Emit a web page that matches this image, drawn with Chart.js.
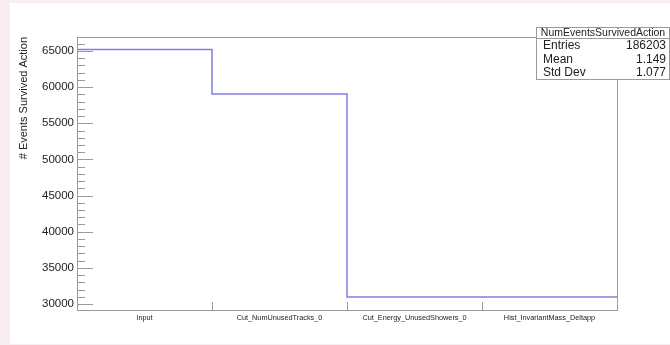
<!DOCTYPE html>
<html>
<head>
<meta charset="utf-8">
<script src="https://cdn.jsdelivr.net/npm/chart.js@4.4.1/dist/chart.umd.min.js"></script>
<style>
  html, body { margin: 0; padding: 0; background: #f8eef2; width: 670px; height: 345px; overflow: hidden; }
  #panel { position: absolute; left: 10px; top: 3px; width: 660px; height: 341px; background: #fff; }
  canvas { display: block; }
</style>
</head>
<body>
<div id="panel"><canvas id="hist" width="660" height="341"></canvas></div>
<script>
// bins of the cut-flow histogram (bin centres at 0,1,2,3)
const categories = ['Input', 'Cut_NumUnusedTracks_0', 'Cut_Energy_UnusedShowers_0', 'Hist_InvariantMass_Deltapp'];
const survived = [65200, 59040, 30980, 30980];
const yRange = [29170, 66940];
const yMajorTicks = [30000, 35000, 40000, 45000, 50000, 55000, 60000, 65000];
const yMinorStep = 1000;
const statsTitle = 'NumEventsSurvivedAction';
const statsLabels = ['Entries', 'Mean', 'Std Dev'];
const statsValues = ['186203', '1.149', '1.077'];

const FONT = "'Liberation Sans', Arial, sans-serif";
const AXIS_GREY = '#9a9a9a';

// histogram outline: one point on each left bin edge plus the last right edge
const outline = survived.map((v, i) => ({ x: i - 0.5, y: v }));
outline.push({ x: survived.length - 0.5, y: survived[survived.length - 1] });

// every 1000 inside the range gets a tick, the majors get a label
const yTicks = [];
for (let v = Math.ceil(yRange[0] / yMinorStep) * yMinorStep; v <= yRange[1]; v += yMinorStep) {
  yTicks.push(v);
}

const rootFrame = {
  id: 'rootFrame',
  beforeDatasetsDraw(chart) {
    const { ctx, chartArea: a, scales } = chart;
    const y = scales.y;
    const x = scales.x;
    ctx.save();
    ctx.strokeStyle = AXIS_GREY;
    ctx.lineWidth = 1;
    y.ticks.forEach((t) => {
      const py = Math.round(y.getPixelForValue(t.value)) + 0.5;
      const len = yMajorTicks.includes(t.value) ? 16 : 8;
      ctx.beginPath();
      ctx.moveTo(a.left, py);
      ctx.lineTo(a.left + len, py);
      ctx.stroke();
    });
    for (let i = 1; i < categories.length; i++) {
      const px = Math.round(x.getPixelForValue(i - 0.5)) + 0.5;
      ctx.beginPath();
      ctx.moveTo(px, a.bottom);
      ctx.lineTo(px, a.bottom - 8);
      ctx.stroke();
    }
    ctx.restore();
  },
  afterDatasetsDraw(chart) {
    const { ctx, chartArea: a } = chart;
    ctx.save();
    ctx.strokeStyle = AXIS_GREY;
    ctx.lineWidth = 1;
    ctx.strokeRect(Math.round(a.left) + 0.5, Math.round(a.top) + 0.5,
      Math.round(a.right - a.left), Math.round(a.bottom - a.top));
    ctx.restore();
  },
  afterDraw(chart) {
    // stats box in the top right corner
    const { ctx } = chart;
    const bx = 526.5, by = 24.5, bw = 133, bh = 52;
    ctx.save();
    ctx.fillStyle = '#fff';
    ctx.fillRect(bx, by, bw, bh);
    ctx.strokeStyle = AXIS_GREY;
    ctx.lineWidth = 1;
    ctx.strokeRect(bx, by, bw, bh);
    ctx.beginPath();
    ctx.moveTo(bx, by + 11);
    ctx.lineTo(bx + bw, by + 11);
    ctx.stroke();
    ctx.fillStyle = '#222';
    ctx.textBaseline = 'middle';
    ctx.font = '10.5px ' + FONT;
    ctx.textAlign = 'center';
    ctx.fillText(statsTitle, bx + bw / 2, by + 5.5);
    ctx.font = '12px ' + FONT;
    statsLabels.forEach((lbl, i) => {
      const ty = by + 18.5 + i * 13.5;
      ctx.textAlign = 'left';
      ctx.fillText(lbl, bx + 6.5, ty);
      ctx.textAlign = 'right';
      ctx.fillText(statsValues[i], bx + bw - 3.5, ty);
    });
    ctx.restore();
  }
};

new Chart(document.getElementById('hist'), {
  type: 'line',
  data: {
    datasets: [{
      data: outline,
      stepped: 'before',
      borderColor: '#7f7fe2',
      borderWidth: 1.5,
      pointRadius: 0,
      fill: false
    }]
  },
  options: {
    responsive: false,
    animation: false,
    events: [],
    layout: { padding: { left: 0, right: 53, top: 34, bottom: 0 } },
    plugins: { legend: { display: false }, tooltip: { enabled: false } },
    scales: {
      x: {
        type: 'linear',
        min: -0.5,
        max: categories.length - 0.5,
        afterBuildTicks: (scale) => { scale.ticks = categories.map((c, i) => ({ value: i })); },
        afterFit: (scale) => { scale.height = 34; },
        grid: { display: false, drawTicks: false },
        border: { display: false },
        ticks: {
          autoSkip: false,
          maxRotation: 0,
          padding: 4,
          color: '#222',
          font: { family: FONT, size: 7.3 },
          callback: (v) => categories[v]
        }
      },
      y: {
        min: yRange[0],
        max: yRange[1],
        afterBuildTicks: (scale) => { scale.ticks = yTicks.map((v) => ({ value: v })); },
        afterFit: (scale) => { scale.width = 67; },
        grid: { display: false, drawTicks: false },
        border: { display: false },
        title: {
          display: true,
          text: '# Events Survived Action',
          align: 'end',
          color: '#222',
          padding: { top: 7, bottom: 0 },
          font: { family: FONT, size: 11 }
        },
        ticks: {
          autoSkip: false,
          padding: 3,
          color: '#222',
          font: { family: FONT, size: 11.5 },
          callback: (v) => (yMajorTicks.includes(v) ? String(v) : '')
        }
      }
    }
  },
  plugins: [rootFrame]
});
</script>
</body>
</html>
